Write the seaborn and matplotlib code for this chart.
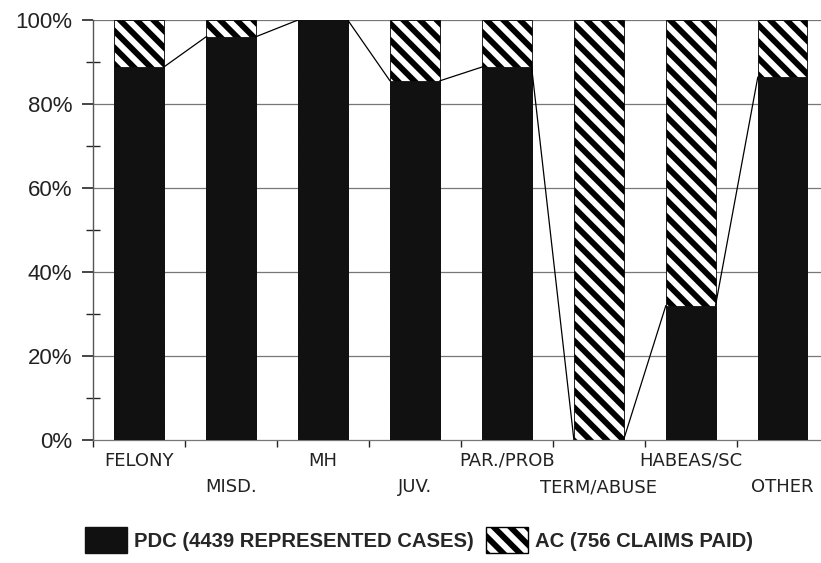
import numpy as np
import pandas as pd
import matplotlib
matplotlib.use("Agg")
import matplotlib.pyplot as plt
import seaborn as sns
from matplotlib.patches import Patch
from matplotlib.ticker import MultipleLocator, FixedLocator

# data (percent of cases per category)
categories = ["FELONY", "MISD.", "MH", "JUV.", "PAR./PROB", "TERM/ABUSE", "HABEAS/SC", "OTHER"]
pdc = [88.8, 96.0, 100.0, 85.5, 88.8, 0.0, 32.0, 86.4]
ac = [100 - v for v in pdc]
pdc_label = "PDC (4439 REPRESENTED CASES)"
ac_label = "AC (756 CLAIMS PAID)"

df = pd.DataFrame({"cat": categories, "pdc": pdc, "ac": ac})
df["total"] = df["pdc"] + df["ac"]

sns.set_style("white")
plt.rcParams["font.family"] = ["DejaVu Sans"]
plt.rcParams["hatch.linewidth"] = 4.2
plt.rcParams["hatch.color"] = "black"

fig = plt.figure(figsize=(8.21, 5.63), dpi=100)
ax = fig.add_axes([0.1133, 0.2185, 0.887, 0.746])

bar_w = 0.54
# grid behind the bars
for y in [20, 40, 60, 80, 100]:
    ax.axhline(y, color="#777777", lw=0.9, zorder=0)

# AC stacked on top of PDC: draw full stack hatched, then PDC in black
sns.barplot(data=df, x="cat", y="total", color="white", edgecolor="black",
            hatch="\\\\", width=bar_w, saturation=1, linewidth=0.6, ax=ax, zorder=2)
sns.barplot(data=df, x="cat", y="pdc", color="#111111", edgecolor="#111111",
            width=bar_w, saturation=1, linewidth=0.6, ax=ax, zorder=3)

# series lines joining the tops of the PDC segments
for i in range(len(pdc) - 1):
    ax.plot([i + bar_w / 2, i + 1 - bar_w / 2], [pdc[i], pdc[i + 1]],
            color="black", lw=0.9, zorder=4)

ax.set_xlim(-0.5, 7.42)
ax.set_ylim(0, 100)
ax.set_xlabel("")
ax.set_ylabel("")

ax.yaxis.set_minor_locator(MultipleLocator(10))
ax.set_yticks([0, 20, 40, 60, 80, 100])
ax.set_yticklabels([f"{v}%" for v in [0, 20, 40, 60, 80, 100]],
                   fontsize=16, color="#222222", family="Liberation Sans")
ax.tick_params(axis="y", which="major", direction="out", length=8, width=1.2, pad=7, left=True)
ax.tick_params(axis="y", which="minor", direction="inout", length=10, width=1, left=True)

ax.set_xticks(range(len(categories)))
ax.set_xticklabels([])
ax.tick_params(axis="x", which="major", length=0)
ax.xaxis.set_minor_locator(FixedLocator(np.arange(-0.5, 7, 1.0)))
ax.tick_params(axis="x", which="minor", direction="out", length=5, width=1, bottom=True)

# two staggered rows of category labels
xtr = ax.get_xaxis_transform()
for i, c in enumerate(categories):
    yy = -0.05 if i % 2 == 0 else -0.112
    ax.text(i, yy, c, transform=xtr, ha="center", va="center", fontsize=13, color="#222222")

for s in ["top", "right"]:
    ax.spines[s].set_visible(False)
ax.spines["left"].set_color("#555555")
ax.spines["left"].set_linewidth(1)
ax.spines["bottom"].set_color("#777777")
ax.spines["bottom"].set_linewidth(0.9)

handles = [Patch(facecolor="#111111", edgecolor="#111111", label=pdc_label),
           Patch(facecolor="white", edgecolor="black", hatch="\\\\", label=ac_label)]
fig.legend(handles=handles, loc="center", bbox_to_anchor=(0.51, 0.041), ncol=2,
           frameon=False, handlelength=2.07, handleheight=1.65, handletextpad=0.35,
           columnspacing=0.6, borderpad=0.1,
           prop={"family": "Liberation Sans", "weight": "bold", "size": 14.6})

fig.savefig("out.png", dpi=100)
